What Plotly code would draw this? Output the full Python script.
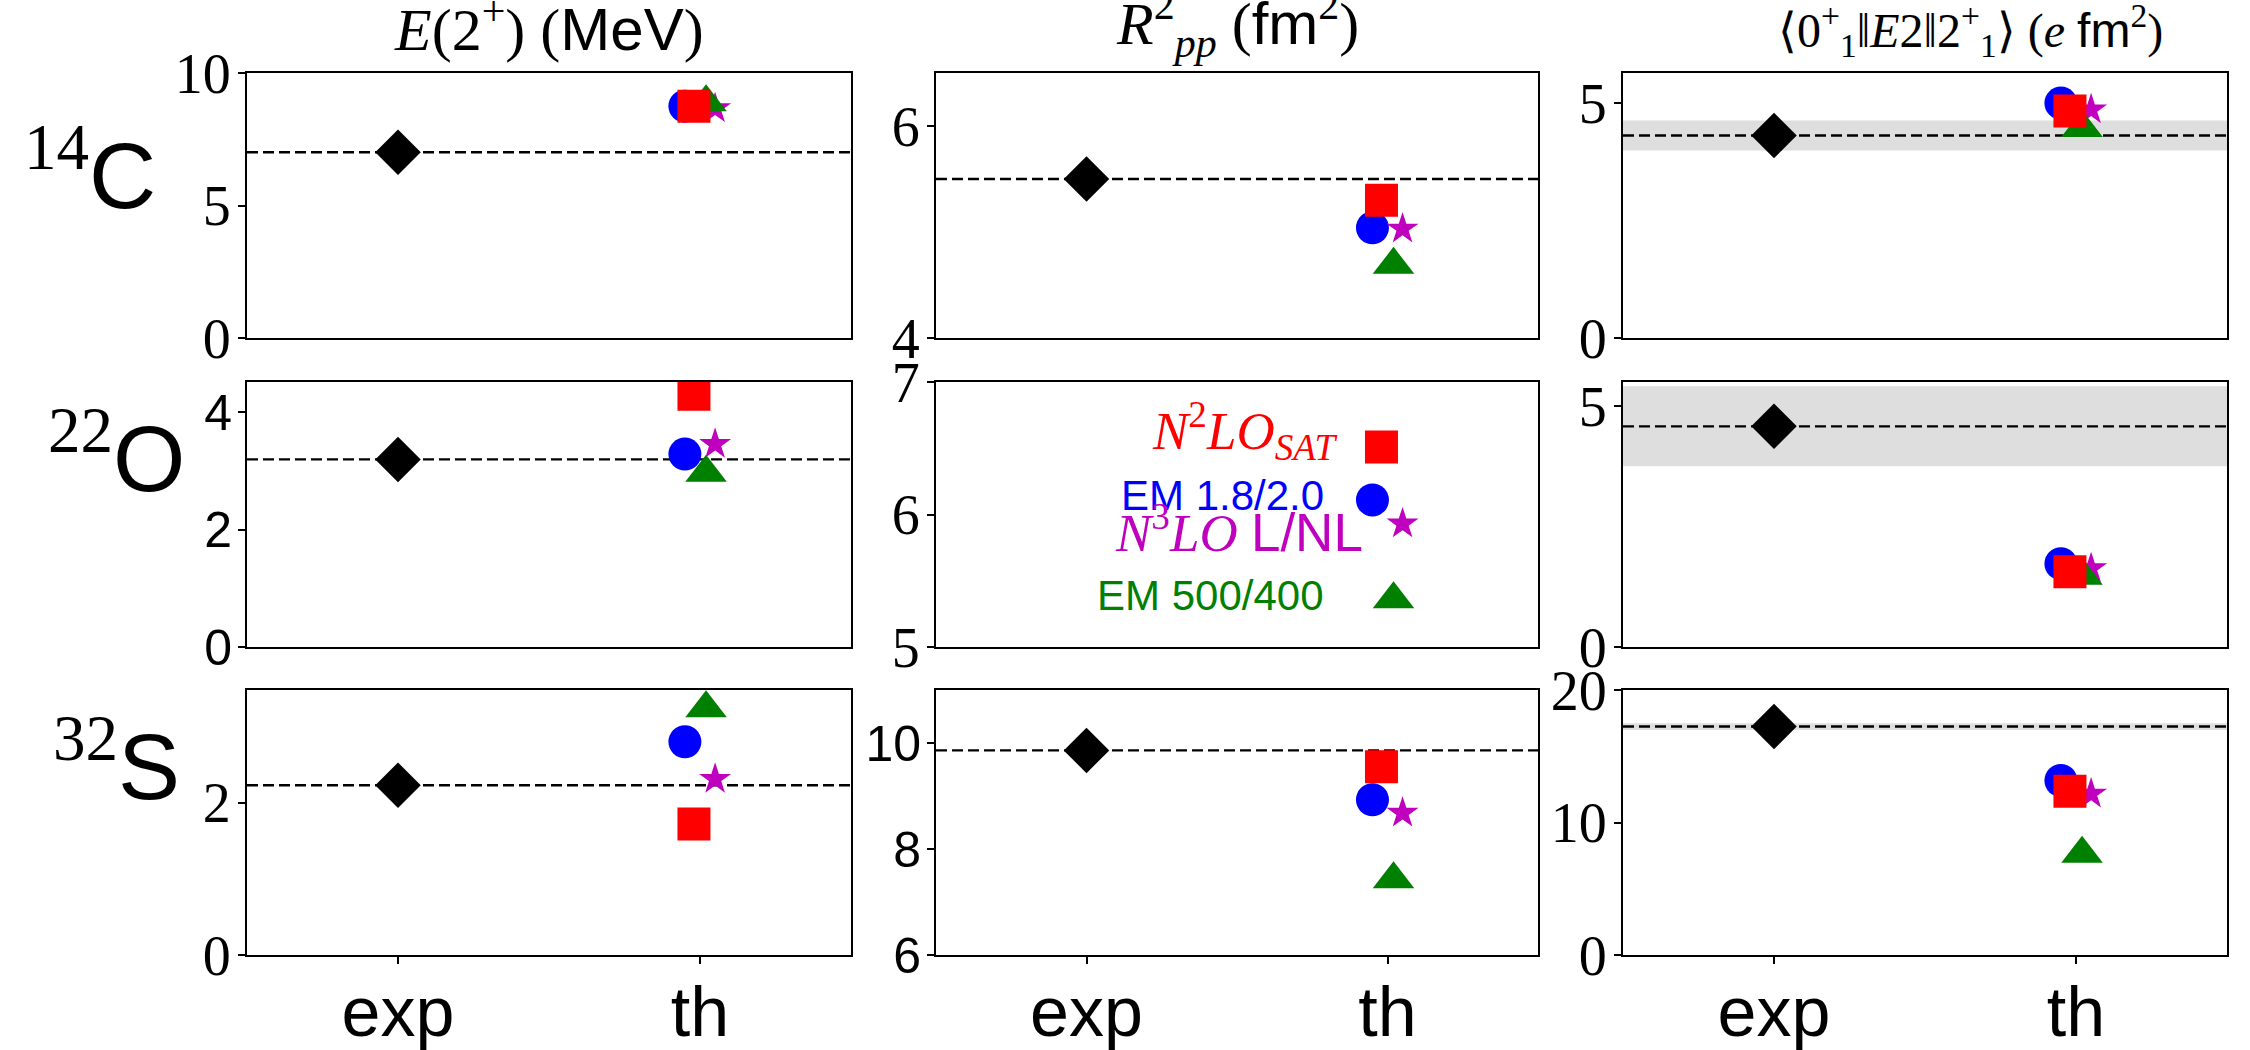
import plotly.graph_objects as go

# ---------------- data ----------------
nucleus_mass = ["14", "22", "32"]
nucleus_symbol = ["C", "O", "S"]
x_labels = ["exp", "th"]
x_positions = [0, 1]

# E(2+) in MeV
e2_exp = [7.01, 3.20, 2.23]
e2_sat = [8.75, 4.31, 1.72]
e2_em18 = [8.75, 3.29, 2.80]
e2_n3lo = [8.66, 3.46, 2.31]
e2_em500 = [8.90, 2.97, 3.24]

# R_pp^2 in fm^2
rpp_exp = [5.50, None, 9.86]
rpp_sat = [5.30, 6.51, 9.55]
rpp_em18 = [5.04, 6.11, 8.93]
rpp_n3lo = [5.03, 5.93, 8.68]
rpp_em500 = [4.69, 5.36, 7.43]

# <0+||E2||2+> in e fm^2
me_exp = [4.31, 4.58, 17.24]
me_err = [0.32, 0.83, 0.25]
me_sat = [4.83, 1.56, 12.36]
me_em18 = [5.00, 1.73, 13.17]
me_n3lo = [4.86, 1.63, 12.16]
me_em500 = [4.47, 1.48, 7.64]

# ---------------- styles ----------------
SERIF = "Liberation Serif"
SANS = "Liberation Sans"
W, H = 2250, 1050

col_px = [(247, 851), (936, 1538), (1623, 2227)]
row_px = [(73, 338), (382, 647), (690, 955)]

y_ranges = [[[0, 10], [4, 6.5], [0, 5.64]],
            [[0, 4.52], [5, 7], [0, 5.5]],
            [[0, 3.48], [6, 11], [0, 20]]]
y_ticks = [[[0, 5, 10], [4, 6], [0, 5]],
           [[0, 2, 4], [5, 6, 7], [0, 5]],
           [[0, 2], [6, 8, 10], [0, 10, 20]]]
y_fonts = [[SERIF, SERIF, SERIF],
           [SANS, SERIF, SERIF],
           [SERIF, SANS, SERIF]]

quantities = [
    dict(exp=e2_exp, err=None, th=dict(em18=e2_em18, n3lo=e2_n3lo, em500=e2_em500, sat=e2_sat)),
    dict(exp=rpp_exp, err=None, th=dict(em18=rpp_em18, n3lo=rpp_n3lo, em500=rpp_em500, sat=rpp_sat)),
    dict(exp=me_exp, err=me_err, th=dict(em18=me_em18, n3lo=me_n3lo, em500=me_em500, sat=me_sat)),
]

mstyle = {
    "em18": dict(symbol="circle", color="#0000ff", size=33, dx=-0.05),
    "n3lo": dict(symbol="star", color="#bf00bf", size=24, dx=0.05),
    "em500": dict(symbol="triangle-up", color="#008000", size=36, dx=0.02),
    "sat": dict(symbol="square", color="#ff0000", size=33, dx=-0.02),
}
draw_order = ["em18", "n3lo", "em500", "sat"]

fig = go.Figure()
layout = dict(width=W, height=H, autosize=False,
              margin=dict(l=0, r=0, t=0, b=0, pad=0),
              paper_bgcolor="white", plot_bgcolor="white",
              showlegend=False)

for r in range(3):
    for c in range(3):
        k = r * 3 + c + 1
        xa = "x" if k == 1 else f"x{k}"
        ya = "y" if k == 1 else f"y{k}"
        q = quantities[c]
        ev = q["exp"][r]
        # band
        if q["err"] is not None and ev is not None:
            e = q["err"][r]
            fig.add_trace(go.Scatter(x=[-0.5, 1.5, 1.5, -0.5, -0.5],
                                     y=[ev - e, ev - e, ev + e, ev + e, ev - e],
                                     fill="toself", fillcolor="#dedede",
                                     line=dict(width=0), mode="lines",
                                     hoverinfo="skip", xaxis=xa, yaxis=ya))
        if ev is not None:
            fig.add_trace(go.Scatter(x=[-0.5, 1.5], y=[ev, ev], mode="lines",
                                     line=dict(color="black", width=2.4, dash="11px,5px"),
                                     xaxis=xa, yaxis=ya))
            fig.add_trace(go.Scatter(x=[x_positions[0]], y=[ev], mode="markers",
                                     marker=dict(symbol="diamond", size=35, color="black",
                                                 line=dict(width=0)),
                                     xaxis=xa, yaxis=ya))
        for key in draw_order:
            s = mstyle[key]
            fig.add_trace(go.Scatter(x=[x_positions[1] + s["dx"]], y=[q["th"][key][r]],
                                     mode="markers",
                                     marker=dict(symbol=s["symbol"], size=s["size"],
                                                 color=s["color"], line=dict(width=0)),
                                     xaxis=xa, yaxis=ya))

        x0, x1 = col_px[c]
        y0, y1 = row_px[r]
        axis_common = dict(showline=True, mirror=True, linecolor="black", linewidth=2,
                           showgrid=False, zeroline=False, automargin=False)
        layout["xaxis" if k == 1 else f"xaxis{k}"] = dict(
            axis_common, domain=[x0 / W, x1 / W], range=[-0.5, 1.5],
            anchor=ya,
            tickvals=x_positions if r == 2 else [],
            ticktext=x_labels if r == 2 else [],
            showticklabels=(r == 2),
            ticks="outside" if r == 2 else "",
            ticklen=7, tickwidth=1.5, tickcolor="black",
            ticklabelstandoff=-12,
            tickfont=dict(family=SANS, size=70, color="black"))
        layout["yaxis" if k == 1 else f"yaxis{k}"] = dict(
            axis_common, domain=[1 - y1 / H, 1 - y0 / H], range=y_ranges[r][c],
            anchor=xa, tickvals=y_ticks[r][c],
            ticks="outside", ticklen=7, tickwidth=1.5, tickcolor="black",
            ticklabelstandoff=-4,
            tickfont=dict(family=y_fonts[r][c], size=56 if y_fonts[r][c] == SERIF else 50,
                          color="black"))

annotations = []
# column titles
titles = [
    f"<i>E</i>(2<sup>+</sup>) (<span style='font-family:{SANS}'>MeV</span>)",
    f"<i>R</i><sup>2</sup><sub><i>pp</i></sub> (<span style='font-family:{SANS}'>fm</span><sup>2</sup>)",
    f"⟨0<sup>+</sup><sub>1</sub>‖<i>E</i>2‖2<sup>+</sup><sub>1</sub>⟩ (<i>e</i> <span style='font-family:{SANS}'>fm</span><sup>2</sup>)",
]
title_y = [25, 24, 30]
title_size = [60, 60, 48]
title_dx = [0, 0, 45]
for c in range(3):
    x0, x1 = col_px[c]
    annotations.append(dict(text=titles[c], x=((x0 + x1) / 2 + title_dx[c]) / W,
                            y=1 - title_y[c] / H,
                            xref="paper", yref="paper", xanchor="center", yanchor="middle",
                            showarrow=False,
                            font=dict(family=SERIF, size=title_size[c], color="black")))

# row labels
row_label_right = [158, 187, 182]
row_label_y = [170, 452, 760]
for r in range(3):
    annotations.append(dict(
        text=f"<sup>{nucleus_mass[r]}</sup><span style='font-family:{SANS}'>{nucleus_symbol[r]}</span>",
        x=row_label_right[r] / W, y=1 - row_label_y[r] / H, xref="paper", yref="paper",
        xanchor="right", yanchor="middle", showarrow=False,
        font=dict(family=SERIF, size=93, color="black")))

# legend texts in the 22O R_pp panel
legend_texts = [
    ("<i>N</i><sup>2</sup><i>LO</i><sub><i>SAT</i></sub>", "#ff0000", SERIF, 53, 0.84, 6.63),
    ("EM 1.8/2.0", "#0000ff", SANS, 42, 0.795, 6.14),
    (f"<i>N</i><sup>3</sup><i>LO</i> <span style='font-family:{SANS}'>L/NL</span>", "#bf00bf", SERIF, 53, 0.925, 5.89),
    ("EM 500/400", "#008000", SANS, 42, 0.795, 5.39),
]
for txt, col, fam, fs, lx, ly in legend_texts:
    annotations.append(dict(text=txt, x=lx, y=ly, xref="x5", yref="y5",
                            xanchor="right", yanchor="middle", showarrow=False,
                            font=dict(family=fam, size=fs, color=col)))

layout["annotations"] = annotations
fig.update_layout(**layout)
fig.write_html("out.html")
